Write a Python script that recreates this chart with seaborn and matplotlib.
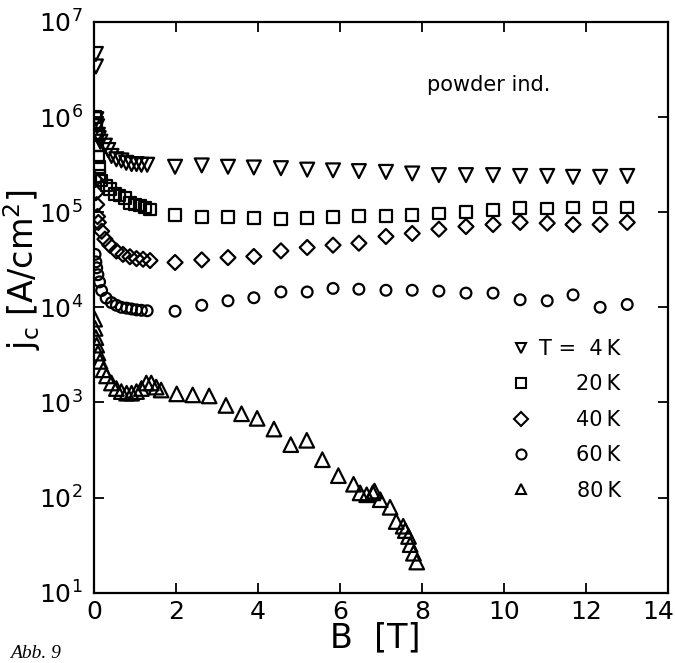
"""Kritische Stromdichte j_c(B) für Pulver bei verschiedenen Temperaturen."""

import matplotlib
matplotlib.use("Agg")
import matplotlib.pyplot as plt
import matplotlib.transforms as mtransforms
from matplotlib.lines import Line2D
from matplotlib.ticker import NullLocator
import seaborn as sns

b_4k = [0.05, 0.05, 0.06, 0.08, 0.10, 0.12, 0.16, 0.27, 0.35, 0.43, 0.55, 0.67,
        0.79, 0.92, 1.04, 1.16, 1.30,
        1.98, 2.63, 3.27, 3.90, 4.56, 5.20, 5.83, 6.46, 7.12, 7.76, 8.41,
        9.07, 9.73, 10.39, 11.05, 11.68, 12.34, 13.00]
j_4k = [4.6e6, 3.4e6, 9.5e5, 8.0e5, 6.5e5, 6.0e5, 5.5e5, 5.0e5, 4.5e5, 3.9e5,
        3.6e5, 3.5e5, 3.3e5, 3.2e5, 3.2e5, 3.15e5, 3.15e5,
        3.0e5, 3.1e5, 3.0e5, 2.95e5, 2.9e5, 2.8e5, 2.75e5, 2.7e5, 2.65e5,
        2.55e5, 2.45e5, 2.45e5, 2.45e5, 2.4e5, 2.4e5, 2.35e5, 2.35e5, 2.4e5]

b_20k = [0.03, 0.05, 0.06, 0.08, 0.10, 0.12, 0.14, 0.19, 0.31, 0.39, 0.51, 0.63,
         0.76, 0.88, 1.00, 1.12, 1.24, 1.37,
         1.98, 2.63, 3.27, 3.90, 4.56, 5.20, 5.83, 6.46, 7.12, 7.76, 8.41,
         9.07, 9.73, 10.39, 11.05, 11.68, 12.34, 13.00]
j_20k = [1.0e6, 8.5e5, 6.5e5, 5.0e5, 3.8e5, 3.0e5, 2.4e5, 2.15e5, 1.9e5, 1.75e5,
         1.55e5, 1.5e5, 1.4e5, 1.25e5, 1.2e5, 1.17e5, 1.12e5, 1.07e5,
         9.3e4, 8.9e4, 8.9e4, 8.65e4, 8.45e4, 8.65e4, 8.9e4, 9.1e4, 9.1e4,
         9.35e4, 9.7e4, 1.0e5, 1.06e5, 1.1e5, 1.09e5, 1.12e5, 1.12e5, 1.12e5]

b_40k = [0.03, 0.05, 0.07, 0.09, 0.11, 0.19, 0.27, 0.39, 0.55, 0.71, 0.88, 1.04,
         1.20, 1.37,
         1.98, 2.63, 3.27, 3.90, 4.56, 5.20, 5.83, 6.46, 7.12, 7.76, 8.41,
         9.07, 9.73, 10.39, 11.05, 11.68, 12.34, 13.00]
j_40k = [2.2e5, 1.6e5, 1.2e5, 9.0e4, 7.8e4, 6.3e4, 5.2e4, 4.5e4, 3.9e4, 3.6e4,
         3.4e4, 3.25e4, 3.2e4, 3.1e4,
         2.96e4, 3.15e4, 3.33e4, 3.42e4, 3.92e4, 4.25e4, 4.5e4, 4.72e4, 5.55e4,
         5.97e4, 6.62e4, 7.06e4, 7.41e4, 7.8e4, 7.66e4, 7.41e4, 7.41e4, 7.8e4]

b_60k = [0.03, 0.05, 0.07, 0.10, 0.14, 0.19, 0.30, 0.43, 0.55, 0.67, 0.80, 0.92,
         1.04, 1.16, 1.30,
         1.98, 2.63, 3.27, 3.90, 4.56, 5.20, 5.83, 6.46, 7.12, 7.76, 8.41,
         9.07, 9.73, 10.39, 11.05, 11.68, 12.34, 13.00]
j_60k = [3.6e4, 3.0e4, 2.6e4, 2.2e4, 1.85e4, 1.5e4, 1.25e4, 1.12e4, 1.05e4,
         1.0e4, 9.8e3, 9.6e3, 9.4e3, 9.3e3, 9.2e3,
         9.1e3, 1.05e4, 1.17e4, 1.26e4, 1.45e4, 1.45e4, 1.58e4, 1.55e4, 1.51e4,
         1.51e4, 1.48e4, 1.41e4, 1.41e4, 1.2e4, 1.17e4, 1.35e4, 1.0e4, 1.07e4]

b_80k = [0.02, 0.03, 0.05, 0.07, 0.10, 0.15, 0.23, 0.31, 0.43, 0.55, 0.67, 0.80,
         0.92, 1.04, 1.16, 1.28, 1.40, 1.52, 1.64,
         2.02, 2.41, 2.81, 3.22, 3.60, 3.98, 4.39, 4.80, 5.19, 5.57, 5.96,
         6.33, 6.49, 6.65, 6.80, 6.84, 6.98, 7.22, 7.37, 7.54, 7.59, 7.67,
         7.71, 7.79, 7.87]
j_80k = [7.5e3, 6.0e3, 4.8e3, 4.0e3, 3.3e3, 2.7e3, 2.2e3, 1.9e3, 1.6e3, 1.4e3,
         1.3e3, 1.25e3, 1.25e3, 1.3e3, 1.4e3, 1.6e3, 1.6e3, 1.45e3, 1.35e3,
         1.23e3, 1.2e3, 1.17e3, 9.3e2, 7.6e2, 6.8e2, 5.25e2, 3.6e2, 4.0e2,
         2.5e2, 1.7e2, 1.38e2, 1.12e2, 1.07e2, 1.12e2, 1.17e2, 95, 79, 56, 50,
         45, 39, 32, 26, 21]

labels = ["T =  4\u2009K", "20\u2009K", "40\u2009K", "60\u2009K", "80\u2009K"]
x_ticks = [0, 2, 4, 6, 8, 10, 12, 14]
y_ticks = [1e1, 1e2, 1e3, 1e4, 1e5, 1e6, 1e7]

sns.set_style("ticks")
plt.rcParams["font.family"] = ["DejaVu Sans"]
plt.rcParams["mathtext.default"] = "regular"
for key in ["text.color", "axes.labelcolor", "xtick.color", "ytick.color",
            "axes.edgecolor"]:
    plt.rcParams[key] = "black"

fig, ax = plt.subplots(figsize=(6.75, 6.63), dpi=100)
fig.subplots_adjust(left=0.139, right=0.99, bottom=0.106, top=0.967)

# Marker und Größe je Temperatur
series = [
    (b_4k, j_4k, "v", 100, 7.5),
    (b_20k, j_20k, "s", 70, 7.5),
    (b_40k, j_40k, "D", 58, 6.8),
    (b_60k, j_60k, "o", 60, 7.2),
    (b_80k, j_80k, "^", 110, 7.2),
]
handles = []
for (b, j, m, s, ms) in series:
    sns.scatterplot(x=b, y=j, marker=m, s=s, facecolor="none",
                    edgecolor="black", linewidth=1.6, ax=ax, zorder=3)
    handles.append(Line2D([], [], linestyle="", marker=m, markersize=ms,
                          markerfacecolor="none", markeredgecolor="black",
                          markeredgewidth=1.5))

ax.set_yscale("log")
ax.set_xlim(0, 14)
ax.set_ylim(1e1, 1e7)
ax.set_xticks(x_ticks)
ax.set_yticks(y_ticks)
ax.yaxis.set_minor_locator(NullLocator())
ax.tick_params(direction="in", length=7, width=1.3, top=True, right=True,
               labelsize=18)
ax.tick_params(axis="y", pad=8)
ax.tick_params(axis="x", pad=5)
for sp in ax.spines.values():
    sp.set_linewidth(1.6)

# "14" am rechten Rand nach links ziehen, damit es im Bild bleibt
last = ax.get_xticklabels()[-1]
last.set_horizontalalignment("right")
last.set_transform(last.get_transform()
                   + mtransforms.ScaledTranslation(6 / 100, 0, fig.dpi_scale_trans))

ax.set_xlabel("B  [T]", fontsize=24)
ax.xaxis.set_label_coords(0.49, -0.051)
ax.set_ylabel("j$_{c}$ [A/cm$^{2}$]", fontsize=24)
ax.yaxis.set_label_coords(-0.089, 0.566)

ax.text(0.58, 0.89, "powder ind.", transform=ax.transAxes, fontsize=15,
        va="center", ha="left")

leg = ax.legend(handles, labels, loc="upper left", bbox_to_anchor=(0.7258, 0.4445),
                frameon=False, fontsize=15, handlelength=1.0, handletextpad=0.37,
                labelspacing=0.74, borderpad=0, borderaxespad=0)

# Beschriftungen rechtsbündig ausrichten (20 K unter 4 K)
fig.canvas.draw()
renderer = fig.canvas.get_renderer()
widths = [t.get_window_extent(renderer).width for t in leg.get_texts()]
for t, w in zip(leg.get_texts(), widths):
    t.set_position((max(widths) - w, 0))

fig.text(0.015, 0.008, "Abb. 9", fontsize=14, style="italic",
         family=["Liberation Serif", "DejaVu Serif"])

fig.savefig("out.png", dpi=100)
plt.close(fig)
